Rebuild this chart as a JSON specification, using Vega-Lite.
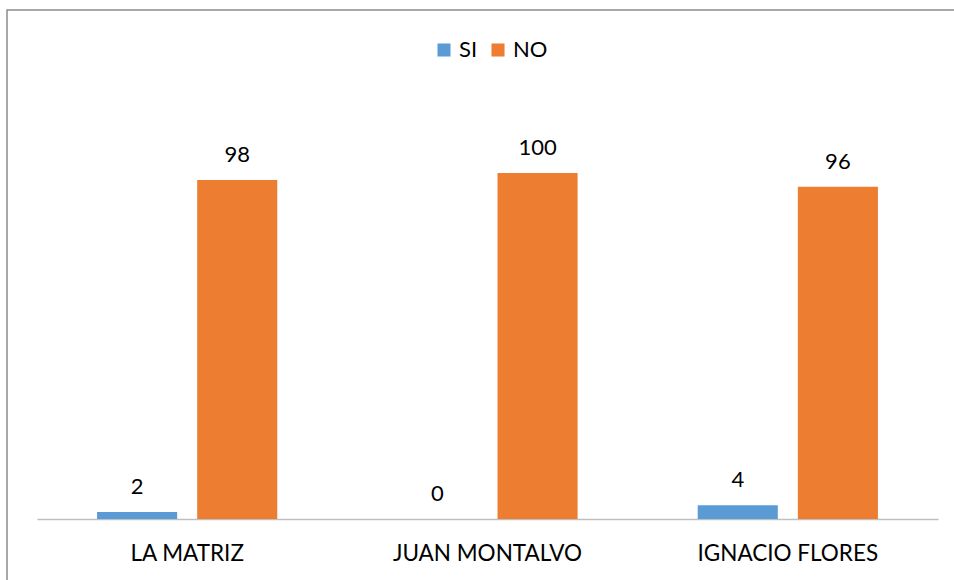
{
  "$schema": "https://vega.github.io/schema/vega-lite/v6.json",
  "width": 960,
  "height": 590,
  "autosize": {"type": "none"},
  "padding": {"left": 7, "top": 10, "right": 0, "bottom": 0},
  "background": "white",
  "config": {
    "view": {"stroke": "#8c8c8c", "strokeWidth": 1.5},
    "font": "Lato"
  },
  "data": {
    "values": [
      {"escuela": "LA MATRIZ", "resp": "SI", "valor": 2},
      {"escuela": "LA MATRIZ", "resp": "NO", "valor": 98},
      {"escuela": "JUAN MONTALVO", "resp": "SI", "valor": 0},
      {"escuela": "JUAN MONTALVO", "resp": "NO", "valor": 100},
      {"escuela": "IGNACIO FLORES", "resp": "SI", "valor": 4},
      {"escuela": "IGNACIO FLORES", "resp": "NO", "valor": 96}
    ]
  },
  "encoding": {
    "x": {
      "field": "escuela",
      "type": "nominal",
      "sort": ["LA MATRIZ", "JUAN MONTALVO", "IGNACIO FLORES"],
      "scale": {"range": [30, 931], "paddingInner": 0, "paddingOuter": 0},
      "axis": {
        "title": null,
        "orient": "bottom",
        "offset": -81,
        "ticks": false,
        "tickSize": 0,
        "labelPadding": 34,
        "labelBaseline": "middle",
        "labelFontSize": 22.5,
        "labelColor": "#000000",
        "labelAngle": 0,
        "labelLimit": 0,
        "labelOverlap": false,
        "domainColor": "#bfbfbf",
        "domainWidth": 1.3,
        "grid": false
      }
    },
    "xOffset": {
      "field": "resp",
      "type": "nominal",
      "sort": ["SI", "NO"],
      "scale": {"paddingInner": 0.2, "paddingOuter": 0.6}
    },
    "y": {
      "field": "valor",
      "type": "quantitative",
      "scale": {"domain": [-23.4, 147.1], "nice": false, "zero": false},
      "axis": null
    }
  },
  "layer": [
    {
      "mark": {"type": "bar"},
      "encoding": {
        "y2": {"datum": 0},
        "color": {
          "field": "resp",
          "type": "nominal",
          "scale": {"domain": ["SI", "NO"], "range": ["#5b9bd5", "#ed7d31"]},
          "legend": {
            "orient": "none",
            "legendX": 426,
            "legendY": 29,
            "direction": "horizontal",
            "title": null,
            "symbolType": "square",
            "symbolSize": 170,
            "symbolStrokeWidth": 0,
            "labelFontSize": 22,
            "labelColor": "#000000",
            "labelOffset": 4,
            "columnPadding": 9
          }
        }
      }
    },
    {
      "mark": {"type": "text", "dy": -25, "fontSize": 22, "color": "#000000", "baseline": "middle"},
      "encoding": {"text": {"field": "valor", "type": "quantitative"}}
    }
  ]
}
